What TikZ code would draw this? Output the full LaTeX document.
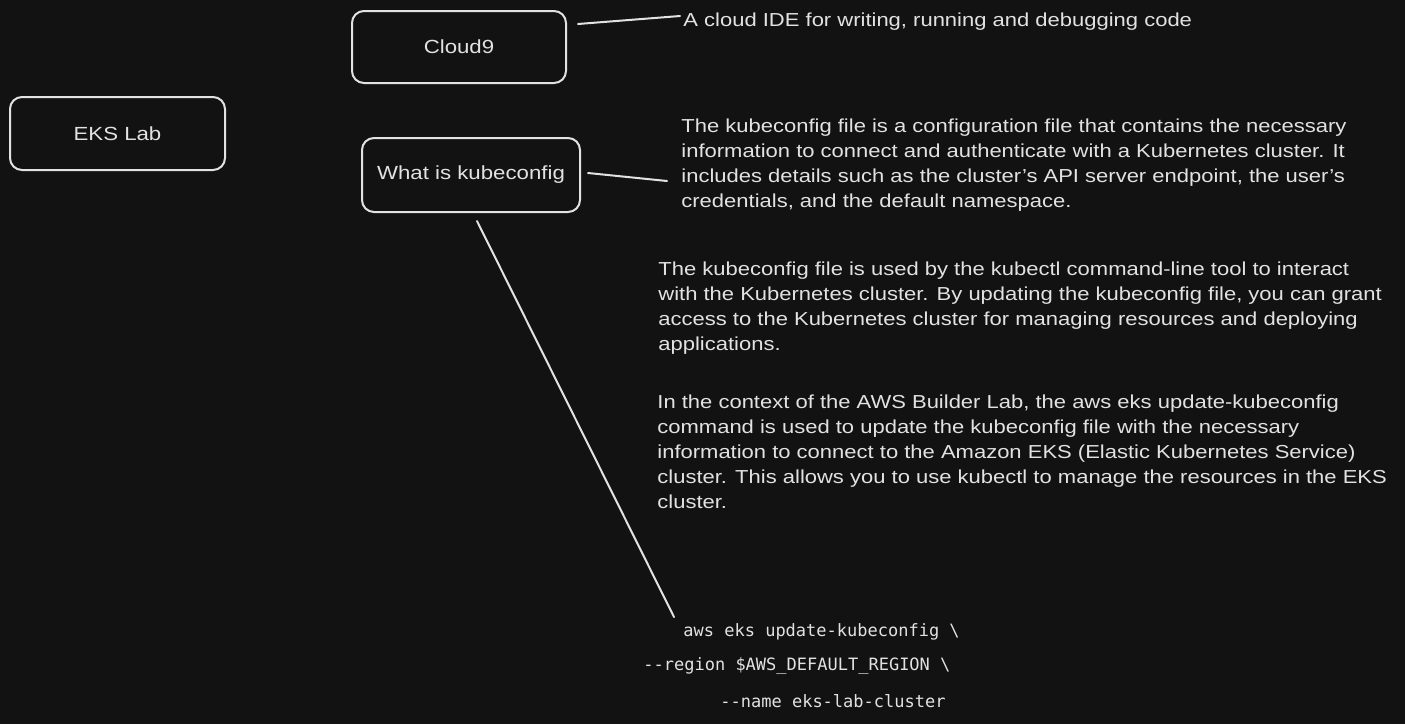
\documentclass[tikz,border=0pt]{standalone}
\usepackage{fontspec}
\setmainfont{Liberation Sans}[FakeStretch=1.17]
\setmonofont{DejaVu Sans Mono}
\definecolor{bg}{HTML}{121212}
\definecolor{ink}{HTML}{E2E2E2}
\begin{document}
\begin{tikzpicture}[x=0.5pt,y=-0.5pt,
  box/.style={draw=ink,line width=1pt,rounded corners=6pt,text=ink,font=\fontsize{9.5}{12}\selectfont},
  link/.style={draw=ink,line width=1pt,line cap=round},
  para/.style={text=ink,anchor=north west,align=left,inner sep=0pt,font=\fontsize{9.4}{12.5}\selectfont},
  code/.style={text=ink,anchor=west,inner sep=0pt,font=\ttfamily\fontsize{8.5}{10}\selectfont}]
\fill[bg] (0,0) rectangle (1405,724);
\useasboundingbox (0,0) rectangle (1405,724);

\node[box,minimum width=107.5pt,minimum height=36.5pt] (eks) at (117.5,133.5) {EKS Lab};
\node[box,minimum width=107pt,minimum height=36pt] (cloud) at (459,47) {Cloud9};
\node[box,minimum width=109pt,minimum height=37pt] (kube) at (471,175) {What is kubeconfig};

\node[para,anchor=west] (t0) at (683,22) {A cloud IDE for writing, running and debugging code};

\node[para] (t1) at (681,118) {The kubeconfig file is a configuration file that contains the necessary\\
information to connect and authenticate with a Kubernetes cluster. It\\
includes details such as the cluster's API server endpoint, the user's\\
credentials, and the default namespace.};

\node[para] (t2) at (658,261) {The kubeconfig file is used by the kubectl command-line tool to interact\\
with the Kubernetes cluster. By updating the kubeconfig file, you can grant\\
access to the Kubernetes cluster for managing resources and deploying\\
applications.};

\node[para] (t3) at (657,394) {In the context of the AWS Builder Lab, the aws eks update-kubeconfig\\
command is used to update the kubeconfig file with the necessary\\
information to connect to the Amazon EKS (Elastic Kubernetes Service)\\
cluster. This allows you to use kubectl to manage the resources in the EKS\\
cluster.};

\node[code] (c1) at (683,632) {aws eks update-kubeconfig \textbackslash};
\node[code] (c2) at (643,666) {-{}-region \$AWS\_DEFAULT\_REGION \textbackslash};
\node[code] (c3) at (720,701) {-{}-name eks-lab-cluster};

\coordinate (a1) at (578,24);
\coordinate (b1) at (680,16);
\coordinate (a2) at (588,173);
\coordinate (b2) at (667,181);
\coordinate (a3) at (477,221);
\coordinate (b3) at (674,617);
\draw[link] (a1) -- (b1);
\draw[link] (a2) -- (b2);
\draw[link] (a3) -- (b3);
\end{tikzpicture}
\end{document}
